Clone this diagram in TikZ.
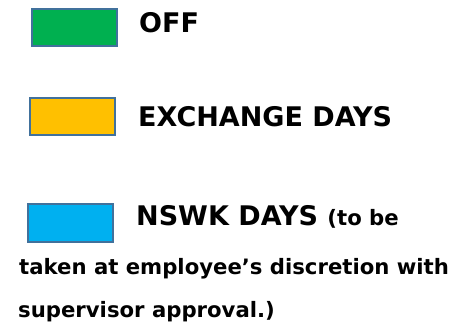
\documentclass[tikz,border=0pt]{standalone}
\usepackage{fontspec}
\setmainfont{DejaVu Sans}
\usepackage{color}
\definecolor{swatchedge}{RGB}{65,113,156}
\definecolor{offgreen}{RGB}{0,176,80}
\definecolor{exchyellow}{RGB}{255,192,0}
\definecolor{nswkblue}{RGB}{0,176,240}
\newcommand{\bigsize}{\fontsize{27}{31}\selectfont\bfseries}
\newcommand{\smallsize}{\fontsize{21.2}{25}\selectfont\bfseries}
\tikzset{
    swatch/.style={draw=swatchedge, line width=2pt, anchor=north west, inner sep=0pt, minimum width=85pt, minimum height=37pt},
    key/.style={anchor=base west, inner sep=0pt, font=\bigsize},
    note/.style={anchor=base west, inner sep=0pt, font=\smallsize}
}
\begin{document}
\begin{tikzpicture}[x=1pt, y=-1pt]
    \useasboundingbox (0,0) rectangle (474,328);
    % swatches
    \node[swatch, fill=offgreen] (offbox) at (31,8) {};
    \node[swatch, fill=exchyellow] (exchbox) at (29,97) {};
    \node[swatch, fill=nswkblue, minimum height=38pt] (nswkbox) at (27,203) {};
    % labels
    \node[key] (offlabel) at (139,33) {OFF};
    \node[key] (exchlabel) at (138,127) {EXCHANGE DAYS};
    \node[key] (nswklabel) at (136,226) {NSWK DAYS \smallsize(to be};
    \node[note] (nswkline) at (19,275) {taken at employee’s discretion with};
    \node[note] (nswkend) at (18,318) {supervisor approval.)};
\end{tikzpicture}
\end{document}
